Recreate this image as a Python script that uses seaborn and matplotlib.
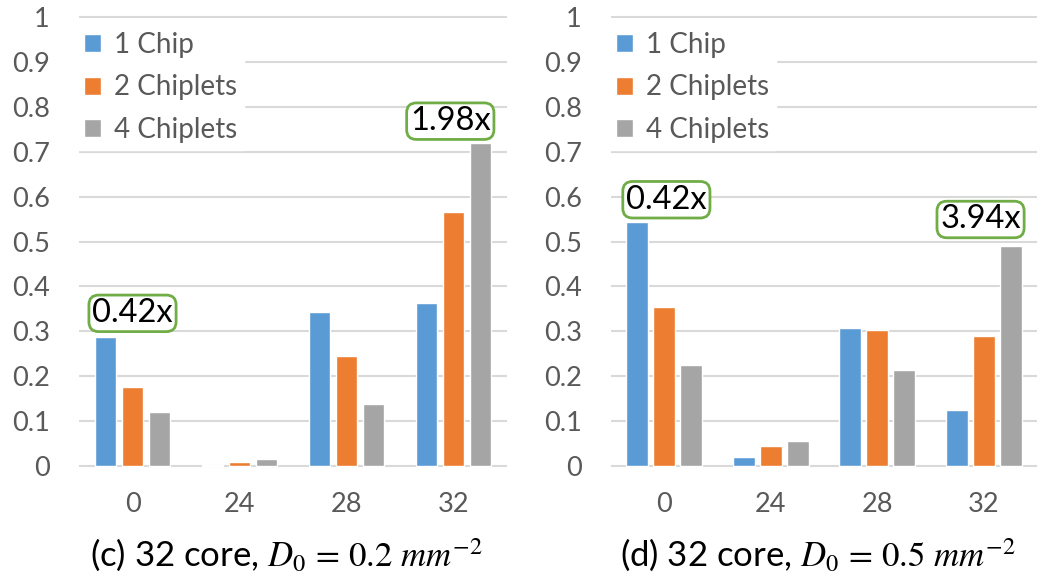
import numpy as np
import pandas as pd
import matplotlib
matplotlib.use("Agg")
import matplotlib.pyplot as plt
import seaborn as sns

# Yield-normalised values per configuration, for each panel
cores = ["0", "24", "28", "32"]
configs = ["1 Chip", "2 Chiplets", "4 Chiplets"]

c_one_chip = [0.287, 0.002, 0.344, 0.362]
c_two_chiplets = [0.175, 0.008, 0.244, 0.566]
c_four_chiplets = [0.120, 0.015, 0.139, 0.719]

d_one_chip = [0.543, 0.019, 0.308, 0.124]
d_two_chiplets = [0.354, 0.045, 0.304, 0.289]
d_four_chiplets = [0.226, 0.055, 0.213, 0.490]

c_callouts = ["0.42x", "1.98x"]
d_callouts = ["0.42x", "3.94x"]

titles = [r"(c) 32 core, $D_0\,=\,0.2\ mm^{-2}$",
          r"(d) 32 core, $D_0\,=\,0.5\ mm^{-2}$"]

palette = ["#5B9BD5", "#ED7D31", "#A5A5A5"]


def long_frame(one, two, four):
    rows = []
    for name, vals in zip(configs, [one, two, four]):
        for core, v in zip(cores, vals):
            rows.append({"core": core, "config": name, "value": v})
    return pd.DataFrame(rows)


sns.set_theme(style="white")
plt.rcParams["font.family"] = ["Lato", "DejaVu Sans"]
plt.rcParams["mathtext.fontset"] = "stix"

W, H = 1037, 581
fig = plt.figure(figsize=(W / 100, H / 100), dpi=100)

y_lo, y_hi = -0.005, 1.005
px_per_unit = 449.0
ax_h = (y_hi - y_lo) * px_per_unit
bottom_px = 466 + (-y_lo) * px_per_unit
axes_px = [(79, 507), (611, 1037)]

frames = [long_frame(c_one_chip, c_two_chiplets, c_four_chiplets),
          long_frame(d_one_chip, d_two_chiplets, d_four_chiplets)]

# label anchors: (category position, value position)
callout_pos = [[(0.0, 0.340), (2.97, 0.768)],
               [(0.02, 0.593), (2.97, 0.549)]]
callout_text = [c_callouts, d_callouts]

tick_color = "#595959"
grid_color = "#D9D9D9"

for i, (df, (x0, x1)) in enumerate(zip(frames, axes_px)):
    ax = fig.add_axes([x0 / W, 1 - bottom_px / H, (x1 - x0) / W, ax_h / H])
    sns.barplot(data=df, x="core", y="value", hue="config", order=cores,
                hue_order=configs, palette=palette, width=0.76, gap=0.2,
                saturation=1, ax=ax, zorder=3)
    ax.set_ylim(y_lo, y_hi)
    ax.set_xlim(-0.5, 3.5)
    ax.set_yticks(np.round(np.arange(0, 1.01, 0.1), 1))
    ax.set_yticklabels(["0"] + [f"{v:.1f}" for v in np.arange(0.1, 0.95, 0.1)] + ["1"])
    ax.yaxis.grid(True, color=grid_color, linewidth=1.5, zorder=0)
    ax.set_axisbelow(True)
    for s in ax.spines.values():
        s.set_visible(False)
    ax.tick_params(axis="both", length=0, labelsize=19.5, colors=tick_color)
    ax.tick_params(axis="y", pad=21)
    ax.tick_params(axis="x", pad=17)
    ax.set_ylabel("")
    ax.set_xlabel(titles[i], fontsize=25, color="black")
    ax.xaxis.set_label_coords(0.5 - 6.5 / (x1 - x0), -0.152)

    leg = ax.legend(loc="upper left", bbox_to_anchor=(-0.005, 0.978),
                    frameon=True, fancybox=False, framealpha=1,
                    edgecolor="white", facecolor="white",
                    fontsize=20, handlelength=0.62, handleheight=0.62,
                    handletextpad=0.45, labelspacing=0.6,
                    borderpad=0.25, borderaxespad=0.0)
    for t in leg.get_texts():
        t.set_color(tick_color)
    leg.set_zorder(5)

    for (cx, cy), label in zip(callout_pos[i], callout_text[i]):
        ax.text(cx, cy, label, ha="center", va="center", fontsize=23.5,
                color="black", zorder=6,
                bbox=dict(boxstyle="round,pad=0.1,rounding_size=0.3",
                          fc="white", ec="#70AD47", lw=2))

fig.savefig("out.png", dpi=100)
